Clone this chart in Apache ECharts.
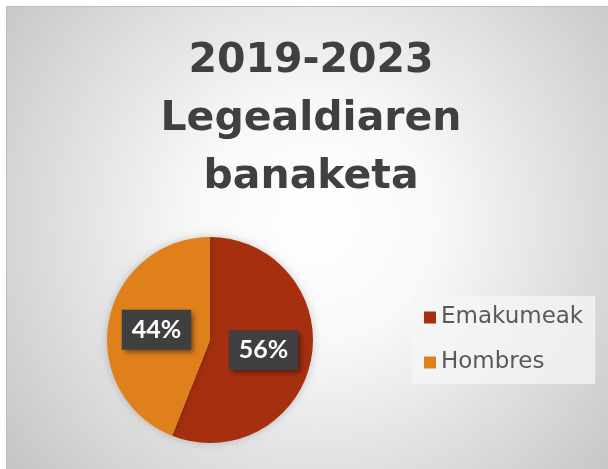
<!DOCTYPE html>
<html>
<head>
<meta charset="utf-8">
<script src="https://cdn.jsdelivr.net/npm/echarts@6/dist/echarts.min.js"></script>
<style>
  html, body { margin: 0; padding: 0; background: #ffffff; }
  #main { width: 608px; height: 469px; }
</style>
</head>
<body>
<div id="main"></div>
<script>
// datos
const titleLines = ["2019-2023", "Legealdiaren", "banaketa"];
const categories = ["Emakumeak", "Hombres"];
const values = [56, 44];
const colors = ["#a52f0f", "#e0801b"];

const chart = echarts.init(document.getElementById("main"), null, { renderer: "canvas" });

const option = {
  animation: false,
  color: colors,
  graphic: [
    {
      type: "rect",
      z: -10,
      silent: true,
      shape: { x: 6.5, y: 6.5, width: 620, height: 480 },
      style: {
        fill: new echarts.graphic.RadialGradient(0.5, 0.45, 0.85, [
          { offset: 0, color: "#ffffff" },
          { offset: 0.3, color: "#f8f8f8" },
          { offset: 1, color: "#c2c2c2" },
        ]),
        stroke: "#bdbdbd",
        lineWidth: 1,
      },
    },
    {
      type: "text",
      x: 311,
      y: 32,
      z: 10,
      style: {
        text: titleLines.join("\n"),
        align: "center",
        verticalAlign: "top",
        fill: "#404040",
        font: "bold 41px 'DejaVu Sans'",
        lineHeight: 58,
      },
    },
  ],
  legend: {
    orient: "vertical",
    left: 412,
    top: 296,
    padding: [10, 12, 10, 12],
    backgroundColor: "rgba(245,245,245,0.75)",
    itemWidth: 12,
    itemHeight: 12,
    itemGap: 22,
    icon: "rect",
    data: categories,
    textStyle: {
      fontFamily: "DejaVu Sans",
      fontSize: 23,
      color: "#595959",
    },
  },
  series: [
    {
      type: "pie",
      center: [210, 340],
      radius: 103,
      startAngle: 90,
      clockwise: true,
      itemStyle: {
        shadowBlur: 8,
        shadowColor: "rgba(0,0,0,0.2)",
      },
      label: {
        show: true,
        position: "inside",
        formatter: "{d}%",
        color: "#ffffff",
        fontFamily: "Lato",
        fontWeight: "bold",
        fontSize: 25,
        backgroundColor: "#3f3f3f",
        padding: [8, 10, 7, 10],
        shadowBlur: 5,
        shadowOffsetX: 3,
        shadowOffsetY: 3,
        shadowColor: "rgba(0,0,0,0.45)",
      },
      labelLine: { show: false },
      emphasis: { disabled: true },
      data: categories.map((name, i) => ({ name: name, value: values[i] })),
    },
  ],
};

chart.setOption(option);
</script>
</body>
</html>
